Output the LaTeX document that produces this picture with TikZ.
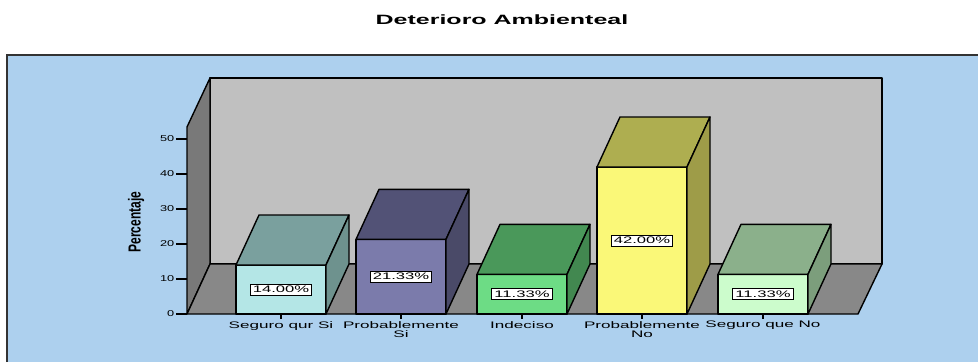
\documentclass[tikz,border=0pt]{standalone}
\usepackage{fontspec}
\setmainfont{Liberation Sans}
\definecolor{bgblue}{RGB}{173,208,238}
\definecolor{wallback}{RGB}{192,192,192}
\definecolor{wallleft}{RGB}{121,121,121}
\definecolor{floorc}{RGB}{136,136,136}
\definecolor{fa}{RGB}{180,230,230}\definecolor{ta}{RGB}{122,160,158}\definecolor{sa}{RGB}{110,146,142}
\definecolor{fb}{RGB}{123,123,171}\definecolor{tb}{RGB}{82,82,118}\definecolor{sb}{RGB}{74,74,104}
\definecolor{fc}{RGB}{109,220,133}\definecolor{tc}{RGB}{74,152,90}\definecolor{sc}{RGB}{66,136,80}
\definecolor{fd}{RGB}{250,248,120}\definecolor{td}{RGB}{174,174,80}\definecolor{sd}{RGB}{158,156,72}
\definecolor{fe}{RGB}{204,252,204}\definecolor{te}{RGB}{139,176,139}\definecolor{se}{RGB}{124,158,124}
\tikzset{
  face/.style={draw=black, line width=1.4pt, line join=round},
  ticklab/.style={font=\fontsize{8.5}{8.5}\selectfont, xscale=1.5, transform shape, inner sep=1pt, anchor=east},
  catlab/.style={font=\fontsize{9.5}{9}\selectfont, xscale=1.8, transform shape, inner sep=0pt, anchor=north, align=center},
  pctlab/.style={font=\fontsize{9.5}{9.5}\selectfont, xscale=1.75, transform shape, draw=black, line width=0.8pt, fill=white, inner xsep=1.5pt, inner ysep=2.2pt},
}
\newcommand\mybar[7]{%
  \pgfmathsetmacro\tp{314-3.5*#2}%
  \pgfmathsetmacro\xa{#1+90}%
  \pgfmathsetmacro\xm{#1+45}%
  \pgfmathsetmacro\ym{(\tp+314)/2}%
  \filldraw[face, fill=#3] (#1,\tp) rectangle (\xa,314);
  \filldraw[face, fill=#4] (#1,\tp) -- ++(23,-50) -- ++(90,0) -- (\xa,\tp) -- cycle;
  \filldraw[face, fill=#5] (\xa,\tp) -- ++(23,-50) -- (\xa+23,264) -- (\xa,314) -- cycle;
  \node[pctlab] (lab#7) at (\xm,\ym) {#6};
  \draw[line width=1.2pt] (\xm,314) -- (\xm,319);
}
\begin{document}
\begin{tikzpicture}[x=1pt,y=-1pt]
\useasboundingbox (0,0) rectangle (978,362);
\fill[white] (0,0) rectangle (978,362);
\fill[bgblue] (7,55) rectangle (978,362);
\draw[line width=1.3pt, black!80] (7,362) -- (7,55) -- (978,55);
\node[font=\bfseries\fontsize{13.5}{14}\selectfont, xscale=1.85, transform shape] (title) at (502,20) {Deterioro Ambienteal};
% walls
\filldraw[face, fill=wallback] (210,78) rectangle (882,264);
\filldraw[face, fill=wallleft] (187,127) -- (210,78) -- (210,264) -- (187,314) -- cycle;
\filldraw[face, fill=floorc] (187,314) -- (210,264) -- (882,264) -- (858,314) -- cycle;
% y axis ticks
\foreach \v in {0,10,...,50}{
  \draw[line width=1.4pt] (176,314-3.5*\v) -- (187,314-3.5*\v);
  \node[ticklab] (t\v) at (176,314-3.5*\v) {\v};
}
\node[font=\bfseries\fontsize{12}{12}\selectfont, rotate=90, yscale=1.45, transform shape] (ylab) at (136,222) {Percentaje};
% bars
\mybar{236}{14}{fa}{ta}{sa}{14.00\%}{a}
\mybar{356}{21.33}{fb}{tb}{sb}{21.33\%}{b}
\mybar{477}{11.33}{fc}{tc}{sc}{11.33\%}{c}
\mybar{597}{42}{fd}{td}{sd}{42.00\%}{d}
\mybar{718}{11.33}{fe}{te}{se}{11.33\%}{e}
% category labels
\node[catlab] (ca) at (281,321) {Seguro qur Si};
\node[catlab] (cb) at (401,321) {Probablemente\\[0pt]Si};
\node[catlab] (cc) at (522,321) {Indeciso};
\node[catlab] (cd) at (642,321) {Probablemente\\[0pt]No};
\node[catlab] (ce) at (763,321) {Seguro que No};
\end{tikzpicture}
\end{document}
